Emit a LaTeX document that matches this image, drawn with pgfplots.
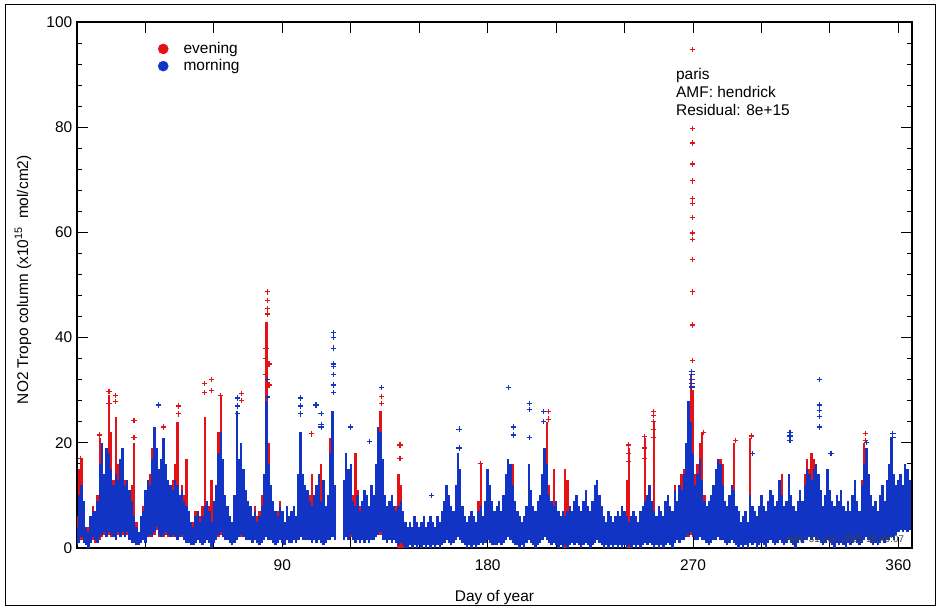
\documentclass[border=0pt]{standalone}
\usepackage{fontspec}
\setmainfont{Liberation Sans}
\usepackage{pgfplots}
\pgfplotsset{compat=1.18}
\usepackage{pgfplotstable}
\definecolor{myred}{RGB}{228,18,22}
\definecolor{myblue}{RGB}{18,52,196}

\pgfplotstableread{
x lo hi
0 0.5 4
1 1 10
2 2 12
3 1 9
4 0.5 4
5 0 3
6 1 6
7 2 7
8 1.5 7
9 1 9
10 2 16
11 2.5 20
12 3 14
13 2 19
14 3 18
15 2.5 15
16 2 12
17 1.5 14
18 3 13
19 2 17
20 3 19
21 2 12
22 3 13
23 1.5 11
24 1 9
25 1 6
26 0.5 4
27 0.5 3
28 1 6
29 1.5 7
30 1 11
31 2 13
32 2.5 12
33 2 17
34 3 23
35 4 19
36 2.5 15
37 2 17
38 2.5 21
39 3 16
40 2.5 13
41 2 12
42 2.5 11
43 2 13
44 1.5 12
45 2 10
46 2.5 11
47 1.5 9
48 1 8
49 1 7
50 0.5 5
51 0.5 4
52 1 6
53 1.5 7
54 1 5
55 0.5 6
56 1 8
57 1.5 9
58 1 7
59 0 5
60 1 9
61 1.5 12
62 2.5 18
63 3 22
64 2 17
65 1.5 10
66 1.5 8
67 1 6
68 0.5 5
69 1 10
70 1.5 26
71 2 17
72 2.5 20
73 2 15
74 1.5 11
75 1.5 9
76 1.5 8
77 1 6
78 1.5 7
79 1 5
80 0.5 6
81 1 8
82 1.5 14
83 2 28
84 1.5 16
85 1.5 12
86 1 9
87 0.5 7
88 1 6
89 1.5 8
90 1 7
91 0.5 5
92 1.5 8
93 1 6
94 1 7
95 1.5 8
96 1 6
97 1.5 14
98 2 22
99 1.5 14
100 1.5 12
101 1.5 11
102 1.5 9
103 1 8
104 1.5 10
105 1 12
106 1.5 14
107 1 9
108 0.5 13
109 1 8
110 1.5 10
111 1.5 18
112 2 26
113 1.5 12
117 1.5 13
118 2 18
119 1.5 15
120 2.5 16
121 1.5 9
122 1 8
123 1.5 10
124 1 7
125 1.5 9
126 1 11
127 1.5 10
128 1 8
129 1.5 12
130 1.5 10
131 2 16
132 2.5 23
133 3 22
134 1.5 17
135 1.5 10
136 1 8
137 1.5 9
138 1 10
139 1.5 8
140 1 7
141 0.5 8
142 1 9
143 0.5 7
144 0 5
145 0 4
146 0.5 5
147 0 4
148 0.5 6
149 0 5
150 0.5 4
151 0 5
152 0.5 6
153 0 4
154 0.5 5
155 0 6
156 0.5 5
157 0 4
158 0.5 6
159 0 5
160 0.5 7
161 1 9
162 1.5 12
163 1 10
164 0.5 8
165 1 7
166 1.5 12
167 2 18
168 1.5 15
169 1 8
170 0.5 6
171 0 5
172 0.5 6
173 0 7
174 0.5 6
175 0 5
176 0.5 7
177 1 8
178 0.5 6
179 1 9
180 1.5 15
181 1 12
182 0.5 9
183 0.5 7
184 0.5 8
185 1 9
186 0.5 7
187 1 10
188 1.5 14
189 2 17
190 1.5 16
191 1 12
192 0.5 9
193 0.5 7
194 0 6
195 0.5 5
196 0 6
197 1 8
198 1.5 16
199 1 11
200 0.5 8
201 0 7
202 0.5 9
203 1 10
204 1.5 14
205 2 19
206 1.5 16
207 1 10
208 0.5 9
209 1 8
210 0.5 9
211 0 7
212 0.5 6
213 0 7
214 0.5 6
215 0 7
216 0.5 8
217 1 7
218 0.5 9
219 1 10
220 0.5 8
221 0 7
222 0.5 9
223 1 11
224 0.5 8
225 0 7
226 0.5 9
227 1 12
228 1.5 13
229 1 10
230 0.5 8
231 0 6
232 0.5 5
233 0 7
234 0.5 6
235 0 5
236 0.5 6
237 0 7
238 0.5 6
239 0 8
240 0.5 7
241 0 6
242 0.5 5
243 0 6
244 0.5 7
245 0 6
246 0.5 5
247 0 7
248 0.5 8
249 1 9
250 0.5 10
251 1 12
252 0.5 9
253 0 7
254 0.5 6
255 0 8
256 0.5 7
257 0 6
258 0.5 9
259 1 10
260 0.5 8
261 0 7
262 1 11
263 1.5 9
264 1 12
265 1.5 11
266 1.5 14
267 2 20
268 2.5 28
269 3 24
270 2 18
271 1.5 12
272 1.5 14
273 2 17
274 1.5 13
275 1.5 9
276 1 8
277 0.5 9
278 1 10
279 1.5 12
280 1.5 15
281 2 17
282 1.5 16
283 1.5 12
284 1 9
285 0.5 8
286 1 10
287 1.5 12
288 1 11
289 0.5 8
290 0 7
291 0.5 5
292 0 6
293 0.5 7
294 0 5
295 1 10
296 0.5 8
297 1 7
298 0 6
299 0.5 8
300 1 10
301 0.5 8
302 0 7
303 1 9
304 1.5 11
305 1 10
306 0.5 8
307 1 9
308 1.5 13
309 1 10
310 0.5 8
311 1 9
312 1.5 14
313 1 10
314 0.5 8
315 0 7
316 1 9
317 1.5 11
318 1 9
319 1.5 12
320 1.5 15
321 2 14
322 1.5 13
323 2 15
324 1.5 16
325 1.5 14
326 1 11
327 0.5 8
328 1 10
329 1.5 15
330 1 11
331 0.5 9
332 0 8
333 1 10
334 0.5 9
335 1 11
336 0.5 8
337 0 7
338 1 9
339 0.5 7
340 1 10
341 1.5 13
342 1 9
343 0.5 7
344 1 12
345 1.5 16
346 2 19
347 1.5 14
348 1 10
349 0.5 8
350 1 9
351 0.5 7
352 1 10
353 1.5 12
354 1 9
355 1.5 13
356 1.5 16
357 2 21
358 1.5 14
359 2.5 12
360 3 13
361 3.5 14
362 3 12
363 3.5 16
364 3 15
365 3.5 13
}\bluebars

\pgfplotstableread{
x lo hi
0 0.5 6
1 1 15
2 1.5 17
3 1 8
4 0.5 3
5 0 4
6 1 5
7 1.5 8
8 1 6
9 1 10
10 1.5 21
11 2 15
12 2.5 13
13 2 17
14 2.5 29
15 2 22
16 2 13
17 1.5 25
18 2.5 16
19 2 14
20 2.5 15
21 2 13
22 2.5 12
23 1.5 10
24 1 12
25 1 20
26 0.5 5
27 0.5 3
28 1 5
29 1.5 8
30 1 10
31 2 12
32 2 14
33 2 19
34 2.5 18
35 3.5 16
36 2 13
37 2 15
38 2 18
39 2.5 14
40 2 12
41 2 11
42 2 13
43 2 16
44 1.5 24
45 2 10
46 2 12
47 1.5 10
48 1 17
49 1 6
50 0.5 4
51 0.5 5
52 1 7
53 1.5 6
54 1 6
55 0.5 8
56 1 25
57 1.5 9
58 1 8
59 0 13
60 1 8
61 1.5 11
62 2 22
63 2.5 29
64 2 15
65 1.5 9
66 1.5 7
67 1 6
68 0.5 5
69 1 9
70 1.5 22
71 2 15
72 2 18
73 2 14
74 1.5 10
75 1.5 8
76 1.5 7
77 1 6
78 1.5 8
79 1 6
80 0.5 7
81 1 10
82 1.5 13
83 2 43
84 1.5 20
85 1.5 11
86 1 8
87 0.5 6
88 1 7
89 1.5 9
90 1 6
91 0.5 5
92 1.5 7
93 1 6
94 1 6
95 1.5 7
96 1 6
97 1.5 11
98 2 13
99 1.5 12
100 1.5 10
101 1.5 9
102 1.5 10
103 1 14
104 1.5 8
105 1 10
106 1.5 12
107 1 16
108 0.5 9
109 1 7
110 1.5 9
111 1.5 21
112 2 15
113 1.5 8
117 1.5 11
118 2 14
119 1.5 12
120 2 13
121 1.5 10
122 1 18
123 1.5 11
124 1 8
125 1.5 7
126 1 9
127 1.5 8
128 1 7
129 1.5 9
130 1.5 9
131 2 13
132 2.5 19
133 2.5 26
134 1.5 14
135 1.5 9
136 1 7
137 1.5 8
138 1 9
139 1.5 7
140 1 8
141 0 14
142 0 12
143 0 6
144 0 4
145 0 3
146 0.5 5
147 0 3
148 0.5 5
149 0 4
150 0.5 3
151 0 4
152 0.5 5
153 0 3
154 0.5 4
155 0 5
156 0.5 4
157 0 3
158 0.5 5
159 0 4
160 0.5 6
161 1 8
162 1.5 10
163 1 8
164 0.5 6
165 1 6
166 1.5 10
167 2 14
168 1.5 12
169 1 7
170 0.5 5
171 0 4
172 0.5 5
173 0 6
174 0.5 5
175 0 4
176 0.5 9
177 1 16
178 0.5 5
179 1 7
180 1.5 12
181 1 10
182 0.5 8
183 0.5 6
184 0.5 7
185 1 8
186 0.5 6
187 1 9
188 1.5 12
189 2 14
190 1.5 15
191 1 16
192 0.5 8
193 0.5 6
194 0 5
195 0.5 4
196 0 5
197 1 7
198 1.5 13
199 1 9
200 0.5 7
201 0 6
202 0.5 8
203 1 9
204 1.5 12
205 2 17
206 1.5 24
207 1 12
208 0.5 8
209 1 15
210 0.5 8
211 0 6
212 0.5 5
213 0 6
214 0 15
215 0 13
216 0.5 8
217 1 6
218 0.5 8
219 1 9
220 0.5 7
221 0 6
222 0.5 8
223 1 9
224 0.5 7
225 0 6
226 0.5 8
227 1 10
228 1.5 11
229 1 9
230 0.5 7
231 0 5
232 0.5 4
233 0 6
234 0.5 5
235 0 4
236 0.5 5
237 0 6
238 0.5 5
239 0 7
240 0.5 6
241 0 13
242 0 19
243 0 5
244 0.5 6
245 0 5
246 0.5 4
247 0 6
248 0.5 7
249 1 21
250 0.5 9
251 1 10
252 0.5 8
253 0 24
254 0.5 5
255 0 7
256 0.5 6
257 0 5
258 0.5 8
259 1 9
260 0.5 7
261 0 6
262 1 12
263 1.5 8
264 1 10
265 1.5 14
266 1.5 15
267 2 18
268 2 22
269 2.5 33
270 2 30
271 1.5 14
272 1.5 16
273 2 20
274 1.5 22
275 1.5 10
276 1 7
277 0.5 8
278 1 9
279 1.5 11
280 1.5 14
281 2 15
282 1.5 17
283 1.5 16
284 1 8
285 0.5 7
286 1 9
287 1.5 11
288 1 20
289 0.5 8
290 0 6
291 0.5 4
292 0 5
293 0.5 6
294 0 5
295 1 21
296 0.5 7
297 1 6
298 0 5
299 0.5 7
300 1 9
301 0.5 7
302 0 6
303 1 8
304 1.5 10
305 1 9
306 0.5 7
307 1 8
308 1.5 12
309 1 14
310 0.5 7
311 1 8
312 1.5 12
313 1 9
314 0.5 7
315 0 6
316 1 8
317 1.5 10
318 1 8
319 1.5 14
320 1.5 17
321 2 15
322 1.5 18
323 2 17
324 1.5 15
325 1.5 13
326 1 10
327 0.5 7
328 1 9
329 1.5 13
330 1 10
331 0.5 8
332 0 7
333 1 9
334 0.5 8
335 1 10
336 0.5 7
337 0 6
338 1 8
339 0.5 6
340 1 9
341 1.5 12
342 1 8
343 0.5 6
344 1 13
345 1.5 20
346 2 18
347 1.5 13
348 1 9
349 0.5 7
350 1 8
351 0.5 6
352 1 9
353 1.5 11
354 1 8
355 1.5 12
356 1.5 15
357 2 18
358 1.5 13
359 2.5 11
360 3 12
361 3.5 13
362 3 12
363 3.5 14
364 3 13
365 3.5 12
}\redbars

\pgfplotstableread{
x y
1.5 17
10 21.5
14 29.7
14 27.5
17 29
17 27.8
25 24.3
25 21
38 23
44.4 27
44.4 25.5
56 31.3
56 29.5
59 32
59 30
63 29
72.2 29.4
72.2 28
83.5 48.7
83.5 47
83.5 45.5
83.5 44.5
82.8 38
82.5 36
82.5 33
84.2 35
84.2 31
102.9 21.7
133.6 28.8
133.6 27.5
141.6 19.6
141.6 17
176.8 16
206.6 26
206.6 24.5
241.7 19.6
241.7 18
241.7 16.5
248.7 21.2
248.7 19
248.7 17
252.6 26
252.6 25.2
252.6 24
252.6 22.5
252.6 21
269.7 94.8
269.7 79.8
269.7 77.0
269.7 73.0
269.7 69.8
269.7 66.5
269.7 65.5
269.7 62.8
269.7 59.9
269.7 58.7
269.7 54.9
269.7 48.7
269.7 42.4
269.7 35.6
274.6 22
288.5 20.5
295.5 21.3
345.5 21.8
345.5 20.5
}\redpts

\pgfplotstableread{
x y
35.6 27.2
70.3 28.5
70.3 27
70.3 25.5
83.5 32
83.5 28.7
98 28.5
98 27
98 25.5
104.8 27.2
107 25.6
107 23.5
107 23
112.4 41
112.4 40
112.4 38
112.4 35
112.4 34.5
112.4 33
112.4 31
112.4 29.5
120 23
128.2 20.2
133.6 30.5
155.5 10
167.5 22.6
167.5 19
189 30.5
191.2 23
191.2 21.5
198.3 27.5
198.3 26.3
198.3 21
204.5 26
204.5 24
269.5 33.5
269.5 33
269.5 32
269.5 31.2
269.5 30.6
312.5 22
312.5 21.3
312.5 20.5
325.4 32
325.4 27.2
325.4 26.2
325.4 25
325.4 23
330.5 18
357.6 21.8
357.6 21
296 18
346 20
}\bluepts

\begin{document}
\begin{tikzpicture}[font=\fontsize{11.6}{14}\selectfont]
\path (0pt,0pt) rectangle (705.75pt,458.25pt);
\draw[line width=0.75pt] (3.75pt,4.5pt) rectangle (701.25pt,454.5pt);
\begin{axis}[
  at={(57.75pt,47.25pt)}, anchor=south west,
  scale only axis, width=626.25pt, height=394.5pt,
  xmin=0, xmax=366, ymin=0, ymax=100,
  axis line style={line width=0.9pt},
  xtick={30,60,...,360},
  xticklabels={,,90,,,180,,,270,,,360},
  ytick={0,20,40,60,80,100},
  yticklabels={0,20,40,60,80,100},
  minor y tick num=4,
  major tick length=8.25pt, minor tick length=3.75pt,
  every tick/.style={black, line width=0.7pt},
  tick align=inside,
  tick label style={font=\fontsize{11.6}{14}\selectfont},
  xticklabel style={yshift=-5pt},
  xlabel={Day of year},
  xlabel style={at={(axis description cs:0.5,-0.1008)}, anchor=base},
  ylabel={NO2 Tropo column (x10\textsuperscript{15}\hspace{6pt}mol/cm2)},
  ylabel style={at={(axis description cs:-0.0647,0.51)}, anchor=center, rotate=0},
  legend style={at={(axis description cs:0.0922,0.972)}, anchor=north west,
    draw=none, fill=none, font=\fontsize{11.6}{14}\selectfont,
    row sep=-1pt, nodes={inner sep=2pt}},
  legend cell align=left,
  clip=true,
]
\addlegendimage{only marks, mark=*, mark size=3.75pt, myred}
\addlegendentry{\hspace{9.5pt}evening}
\addlegendimage{only marks, mark=*, mark size=3.75pt, myblue}
\addlegendentry{\hspace{9.5pt}morning}

\addplot[forget plot, draw=none, mark=none,
  error bars/.cd, y dir=plus, y explicit,
  error mark=none, error bar style={draw=myred, line width=1.8pt}]
  table[x=x, y=lo, y error expr=\thisrow{hi}-\thisrow{lo}] {\redbars};
\addplot[forget plot, only marks, mark=+, mark size=2pt, myred,
  mark options={line width=0.9pt}] table[x=x,y=y] {\redpts};
\addplot[forget plot, draw=none, mark=none,
  error bars/.cd, y dir=plus, y explicit,
  error mark=none, error bar style={draw=myblue, line width=1.8pt}]
  table[x=x, y=lo, y error expr=\thisrow{hi}-\thisrow{lo}] {\bluebars};
\addplot[forget plot, only marks, mark=+, mark size=2pt, myblue,
  mark options={line width=0.9pt}] table[x=x,y=y] {\bluepts};

\node[anchor=base west, inner sep=0] at (axis cs:262.5,89.0) {paris};
\node[anchor=base west, inner sep=0] at (axis cs:262.5,85.7) {AMF: hendrick};
\node[anchor=base west, inner sep=0] at (axis cs:262.5,82.3) {Residual: 8e+15};
\coordinate (ts) at (axis cs:310.8,1.1);
\end{axis}
\node[anchor=base west, inner sep=0, text=black!75, font=\fontsize{7.3}{8}\selectfont] at (ts) {mer. 31 oct. 2025 16:49:07};
\end{tikzpicture}
\end{document}
